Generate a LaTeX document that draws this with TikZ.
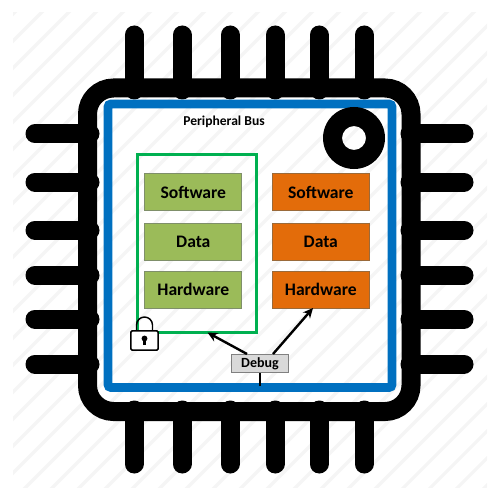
\documentclass[tikz,border=0pt]{standalone}
\usepackage{fontspec}
\setmainfont{Carlito}
\usetikzlibrary{arrows.meta}
\definecolor{hatch}{HTML}{F5F5F5}
\definecolor{busblue}{HTML}{0070C0}
\definecolor{safegreen}{HTML}{00B050}
\definecolor{leaf}{HTML}{9BBB59}
\definecolor{leafedge}{HTML}{7F8F6A}
\definecolor{hot}{HTML}{E36C0A}
\definecolor{hotedge}{HTML}{9A6A3A}
\tikzset{
  pin/.style={line width=14.25pt,line cap=round,black},
  blk/.style={draw,line width=0.75pt,minimum width=73pt,minimum height=27.75pt,inner sep=0pt,font=\bfseries\fontsize{13.2}{15}\selectfont,text=black},
  greenblk/.style={blk,fill=leaf,draw=leafedge},
  hotblk/.style={blk,fill=hot,draw=hotedge},
  link/.style={line width=1.8pt,black,-{Stealth[length=7.5pt,width=7pt]}}
}
\begin{document}
\begin{tikzpicture}[x=0.75pt,y=-0.75pt]
\useasboundingbox (0,0) rectangle (499,499);
% faint background hatching
\begin{scope}
\clip (13,13) rectangle (487,487);
\foreach \s in {0,27,...,1000}{
  \draw[hatch,line width=2.4pt] (\s,0) -- (0,\s);
}
\end{scope}
% pins
\foreach \p in {134,182,230,275,319,364}{
  \draw[pin] (\p,35) -- (\p,90);
  \draw[pin] (\p,464) -- (\p,410);
  \draw[pin] (35,\p) -- (90,\p);
  \draw[pin] (464,\p) -- (410,\p);
}
% chip body
\draw[black,line width=14.25pt,rounded corners=19.5pt] (87.5,88) rectangle (411,411.5);
% bus ring
\draw[busblue,line width=6.4pt,rounded corners=2pt] (108,104) rectangle (392,387.5);
% pin-one mark
\fill[black,even odd rule] (354,138) circle[radius=23.25pt] (354,138) circle[radius=9pt];
\node[font=\bfseries\fontsize{10.2}{12}\selectfont,inner sep=0pt] (bus) at (224,121.5) {Peripheral Bus};
% secure region
\node[draw=safegreen,line width=2.25pt,minimum width=89.25pt,minimum height=133.5pt,inner sep=0pt] (secure) at (196.5,243) {};
\node[greenblk] (s1) at (193.3,192) {\raisebox{-0.7pt}{Software}};
\node[greenblk] (s2) at (193.3,241.5) {\raisebox{-0.7pt}{Data}};
\node[greenblk] (s3) at (193.3,289.5) {\raisebox{-0.7pt}{Hardware}};
\node[hotblk] (n1) at (320.8,192) {\raisebox{-0.7pt}{Software}};
\node[hotblk] (n2) at (320.8,241.5) {\raisebox{-0.7pt}{Data}};
\node[hotblk] (n3) at (320.8,289.5) {\raisebox{-0.7pt}{Hardware}};
% lock
\draw[black,line width=1.1pt] (136.5,331) -- (136.5,325) arc[start angle=180,end angle=360,radius=8] -- (152.5,331);
\node[draw=black,fill=white,line width=1.1pt,rounded corners=1pt,minimum width=20.5pt,minimum height=14.5pt,inner sep=0pt] (lock) at (144.5,340.5) {};
\fill[black] (144.5,338.5) circle[radius=2.2pt];
\fill[black] (143,339) rectangle (146,345);
% debug
\node[draw=gray,line width=0.75pt,fill=black!15,minimum width=43pt,minimum height=13.5pt,inner sep=0pt,font=\bfseries\fontsize{10.5}{12}\selectfont] (dbg) at (260,363.5) {Debug};
\coordinate (dbgL) at (247,354);
\coordinate (dbgR) at (273,354);
\coordinate (secIn) at (207.5,332.5);
\coordinate (hwIn) at (313,308);
\coordinate (busIn) at (260,386);
\draw[link] (dbgL) -- (secIn);
\draw[link] (dbgR) -- (hwIn);
\draw[black,line width=1.8pt] (dbg.south) -- (busIn);
\end{tikzpicture}
\end{document}
